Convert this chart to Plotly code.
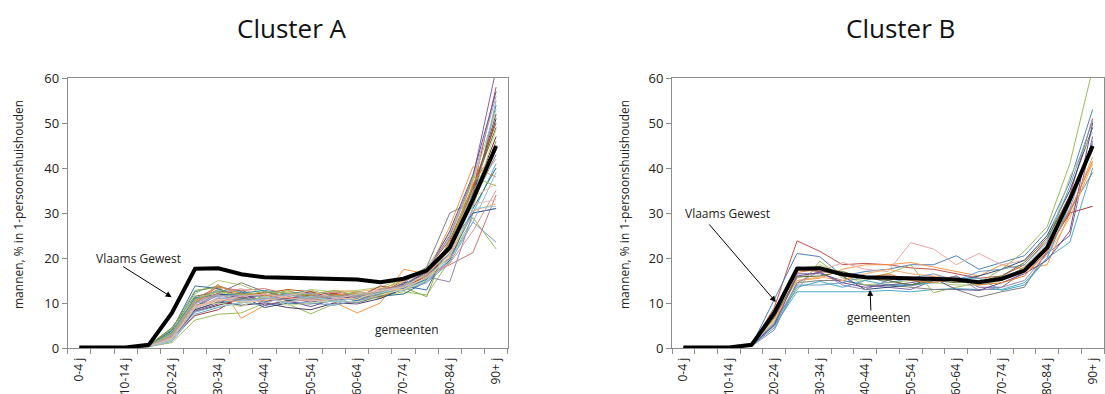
import plotly.graph_objects as go

categories = ["0-4 j", "5-9 j", "10-14 j", "15-19 j", "20-24 j", "25-29 j", "30-34 j",
              "35-39 j", "40-44 j", "45-49 j", "50-54 j", "55-59 j", "60-64 j",
              "65-69 j", "70-74 j", "75-79 j", "80-84 j", "85-89 j", "90+ j"]

vlaams_gewest = [0.1, 0.1, 0.1, 0.7, 7.8, 17.6, 17.7, 16.4, 15.7, 15.6, 15.4, 15.3, 15.2,
                 14.6, 15.4, 17.2, 22.3, 33.0, 44.9]

cluster_a = [
    [0, 0, 0.1, 0.4, 3.5, 12.5, 13.8, 12.2, 11.5, 12.0, 11.0, 11.5, 10.5, 11.5, 13.0, 15.5, 21.0, 33.0, 54.0],
    [0, 0, 0.1, 0.5, 2.8, 9.5, 10.5, 10.8, 11.8, 11.2, 10.5, 10.8, 11.2, 12.0, 13.5, 16.0, 23.5, 35.0, 58.0],
    [0, 0, 0.1, 0.3, 1.2, 6.2, 7.5, 7.8, 10.0, 9.8, 7.6, 9.8, 10.0, 11.5, 12.5, 11.8, 19.5, 29.0, 22.0],
    [0, 0, 0.1, 0.4, 2.5, 9.0, 11.8, 12.0, 10.5, 11.0, 10.2, 11.0, 11.2, 12.5, 14.0, 17.0, 25.0, 38.0, 62.0],
    [0, 0, 0.1, 0.4, 2.0, 8.5, 10.2, 10.5, 11.2, 10.8, 11.5, 10.5, 11.8, 11.0, 13.2, 15.0, 20.0, 30.0, 41.0],
    [0, 0, 0.1, 0.5, 3.0, 10.0, 14.2, 6.6, 9.5, 10.5, 11.0, 10.2, 7.8, 10.0, 17.5, 16.5, 27.0, 40.3, 38.0],
    [0, 0, 0.1, 0.5, 3.8, 11.0, 12.0, 11.5, 9.0, 10.0, 9.8, 10.5, 10.0, 11.8, 14.5, 15.5, 22.5, 34.0, 51.0],
    [0, 0, 0.1, 0.3, 2.2, 8.0, 9.5, 10.8, 12.5, 11.5, 12.5, 11.5, 11.0, 13.0, 13.8, 15.8, 21.0, 33.5, 47.0],
    [0, 0, 0.1, 0.6, 4.5, 11.5, 12.5, 12.8, 11.0, 12.2, 11.8, 12.0, 11.5, 12.5, 14.2, 16.5, 23.0, 35.5, 49.0],
    [0, 0, 0.1, 0.4, 2.6, 8.5, 10.2, 9.5, 10.0, 9.0, 8.5, 10.0, 9.8, 11.0, 13.2, 15.2, 22.0, 33.0, 45.0],
    [0, 0, 0.1, 0.4, 2.4, 9.2, 12.2, 11.0, 12.0, 10.5, 11.2, 11.8, 12.0, 11.5, 12.0, 14.8, 19.5, 31.0, 40.0],
    [0, 0, 0.1, 0.5, 3.2, 10.5, 13.0, 11.8, 12.2, 13.0, 12.5, 12.0, 11.0, 12.0, 15.0, 17.5, 24.0, 36.0, 50.0],
    [0, 0, 0.1, 0.3, 1.5, 7.5, 9.0, 10.2, 9.5, 10.2, 10.0, 9.5, 10.5, 12.2, 12.8, 14.5, 19.0, 28.0, 23.5],
    [0, 0, 0.1, 0.4, 2.9, 11.0, 13.5, 12.8, 13.2, 12.0, 11.5, 12.5, 11.8, 12.8, 13.5, 16.2, 18.5, 21.2, 34.0],
    [0, 0, 0.1, 0.5, 3.6, 12.0, 15.0, 14.0, 12.0, 11.5, 13.0, 12.5, 12.8, 13.5, 15.5, 17.8, 25.5, 37.0, 53.0],
    [0, 0, 0.1, 0.4, 2.1, 8.8, 11.0, 11.5, 11.8, 10.8, 11.5, 10.8, 11.5, 12.8, 13.0, 15.8, 14.7, 30.0, 31.0],
    [0, 0, 0.1, 0.5, 3.3, 10.8, 12.8, 12.5, 11.0, 11.8, 10.8, 11.2, 12.2, 12.0, 14.0, 16.0, 21.5, 32.0, 55.0],
    [0, 0, 0.1, 0.3, 1.8, 9.0, 10.5, 11.2, 10.8, 12.5, 12.0, 12.8, 12.5, 13.2, 14.8, 17.2, 20.5, 30.5, 32.0],
    [0, 0, 0.1, 0.4, 2.7, 10.2, 12.2, 14.5, 12.5, 11.2, 10.5, 11.0, 10.8, 12.0, 14.5, 18.0, 30.0, 32.5, 43.0],
    [0, 0, 0.1, 0.5, 4.0, 13.8, 13.2, 11.2, 10.2, 11.5, 12.2, 10.8, 11.0, 12.8, 13.8, 12.9, 23.0, 30.0, 31.0],
    [0, 0, 0.1, 0.4, 2.3, 7.2, 8.5, 11.5, 10.5, 11.0, 11.8, 12.2, 11.2, 13.8, 12.8, 16.5, 20.0, 34.5, 52.0],
    [0, 0, 0.1, 0.6, 4.2, 12.8, 13.5, 10.0, 11.5, 12.8, 11.2, 11.5, 12.5, 12.0, 13.5, 11.4, 24.5, 31.5, 46.0],
    [0, 0, 0.1, 0.3, 2.0, 8.2, 9.8, 12.5, 9.5, 10.5, 9.2, 10.8, 11.5, 12.2, 14.2, 16.8, 26.0, 38.5, 57.0],
    [0, 0, 0.1, 0.5, 3.4, 11.2, 11.5, 12.2, 12.8, 12.0, 12.8, 11.5, 10.5, 13.0, 13.2, 15.2, 22.8, 34.0, 44.0],
    [0, 0, 0.1, 0.4, 2.6, 9.8, 13.8, 12.0, 11.8, 11.2, 10.5, 11.8, 12.2, 11.2, 13.8, 16.0, 21.8, 36.5, 44.5],
    [0, 0, 0.1, 0.4, 1.9, 8.8, 11.2, 10.5, 10.8, 12.0, 11.0, 9.5, 11.8, 12.5, 12.8, 14.8, 19.8, 28.0, 39.0],
    [0, 0, 0.1, 0.5, 3.0, 10.5, 12.0, 13.2, 11.2, 10.2, 10.8, 12.5, 10.8, 13.2, 13.5, 15.5, 18.8, 26.0, 35.0],
    [0, 0, 0.1, 0.3, 2.4, 9.5, 10.0, 9.2, 11.5, 9.5, 10.0, 10.5, 10.2, 11.8, 13.0, 15.0, 21.0, 32.5, 48.5],
    [0, 0, 0.1, 0.4, 2.8, 9.8, 11.5, 11.8, 9.8, 11.8, 12.2, 11.0, 9.8, 12.5, 14.0, 17.5, 24.5, 37.5, 56.0],
    [0, 0, 0.1, 0.3, 1.6, 8.0, 9.2, 10.0, 11.2, 10.0, 11.5, 10.2, 11.2, 12.2, 13.5, 15.5, 20.8, 31.0, 31.5],
    [0, 0, 0.1, 0.5, 3.2, 10.8, 12.5, 11.8, 12.5, 12.2, 11.8, 12.8, 11.8, 12.8, 15.2, 17.0, 22.0, 38.0, 36.0],
    [0, 0, 0.1, 0.4, 2.2, 9.2, 10.8, 10.2, 10.5, 11.5, 12.8, 11.2, 10.8, 12.8, 13.0, 15.8, 20.2, 33.5, 36.5],
    [0, 0, 0.1, 0.4, 2.5, 10.0, 11.8, 10.8, 11.0, 10.8, 11.2, 11.5, 11.5, 12.5, 13.8, 16.2, 22.2, 35.0, 42.0],
    [0, 0, 0.1, 0.4, 2.0, 9.0, 10.5, 11.5, 12.0, 11.2, 10.5, 10.8, 12.0, 12.8, 13.5, 16.5, 21.5, 32.0, 33.0],
]

cluster_b = [
    [0, 0, 0.1, 0.6, 9.0, 23.8, 21.5, 18.5, 18.8, 18.5, 17.8, 17.5, 16.5, 15.5, 16.0, 18.5, 24.0, 34.0, 51.0],
    [0, 0, 0.1, 0.6, 10.8, 21.0, 20.3, 16.0, 17.0, 17.5, 18.5, 18.5, 20.5, 17.5, 19.0, 20.5, 26.0, 37.0, 53.0],
    [0, 0, 0.2, 0.7, 6.5, 13.0, 19.3, 15.5, 15.0, 16.5, 18.5, 12.3, 13.5, 14.5, 17.5, 21.5, 27.0, 41.0, 62.0],
    [0, 0, 0.1, 0.5, 5.5, 16.5, 16.5, 15.0, 14.0, 13.5, 13.0, 15.0, 16.0, 13.5, 13.5, 17.0, 21.0, 25.0, 47.0],
    [0, 0, 0.1, 0.5, 5.0, 12.5, 12.5, 12.5, 12.5, 12.8, 12.5, 13.0, 13.2, 13.0, 13.0, 14.5, 20.0, 23.5, 40.0],
    [0, 0, 0.1, 0.6, 7.0, 15.0, 15.5, 17.5, 18.5, 18.5, 19.0, 18.0, 17.0, 16.0, 18.5, 17.5, 18.5, 30.0, 42.5],
    [0, 0, 0.1, 0.5, 6.0, 15.5, 17.0, 19.0, 17.5, 17.0, 23.4, 22.0, 18.5, 21.0, 18.5, 19.5, 24.0, 33.0, 45.0],
    [0, 0, 0.1, 0.5, 5.0, 14.5, 15.0, 15.0, 14.0, 14.0, 13.5, 13.0, 13.0, 11.3, 12.5, 13.5, 21.5, 30.5, 39.0],
    [0, 0, 0.1, 0.5, 7.5, 17.5, 17.0, 16.5, 15.5, 16.0, 15.5, 15.8, 14.8, 14.5, 15.0, 18.0, 22.0, 30.0, 31.5],
    [0, 0, 0.1, 0.6, 8.5, 18.0, 17.5, 16.0, 13.0, 13.5, 14.0, 15.5, 15.0, 16.0, 17.5, 19.5, 25.0, 35.0, 49.0],
    [0, 0, 0.1, 0.5, 6.0, 14.0, 18.5, 16.5, 14.0, 14.5, 15.0, 14.5, 14.0, 14.0, 15.0, 18.0, 23.0, 38.0, 48.0],
    [0, 0, 0.1, 0.5, 6.5, 15.0, 15.8, 15.0, 16.5, 17.5, 16.5, 16.0, 15.5, 14.8, 15.2, 16.8, 20.5, 29.0, 41.0],
    [0, 0, 0.1, 0.4, 4.0, 14.5, 17.0, 14.0, 13.0, 15.0, 13.8, 14.8, 16.0, 12.8, 13.5, 15.0, 21.0, 31.0, 46.0],
    [0, 0, 0.1, 0.5, 5.5, 14.0, 14.0, 14.5, 16.0, 14.5, 15.5, 16.5, 15.0, 17.0, 17.5, 18.5, 23.5, 36.0, 50.5],
    [0, 0, 0.1, 0.5, 4.5, 13.5, 14.8, 13.5, 15.0, 14.0, 14.0, 14.5, 15.5, 15.5, 12.8, 14.0, 20.0, 32.0, 45.5],
    [0, 0, 0.1, 0.5, 5.2, 16.0, 16.8, 14.5, 13.5, 14.0, 14.5, 15.5, 13.0, 12.8, 14.5, 16.5, 19.5, 26.0, 50.0],
    [0, 0, 0.1, 0.5, 6.8, 15.8, 16.0, 17.0, 15.5, 15.0, 14.0, 15.0, 14.5, 14.8, 16.0, 19.0, 24.5, 33.5, 44.0],
    [0, 0, 0.1, 0.6, 7.2, 16.8, 17.5, 16.0, 15.5, 16.5, 15.0, 14.5, 15.5, 14.0, 14.5, 16.0, 21.5, 30.5, 41.5],
]

palette_a = ["#4F81BD", "#C0504D", "#9BBB59", "#8064A2", "#4BACC6", "#F79646",
             "#2C4D75", "#772C2A", "#5F7530", "#4D3B62", "#276A7C", "#B65708",
             "#729ACA", "#CD7371", "#AFC97A", "#9983B5", "#6FBDD1", "#F9AB6B",
             "#7F7F7F", "#3A6BA8", "#A33C39", "#86A84A", "#6A5090", "#3593AE",
             "#E67E2A", "#95B3D7", "#D99694", "#C3D69B", "#B3A2C7", "#93CDDD",
             "#9BBB59", "#FAC090", "#A5A5A5", "#E6B9B8"]
palette_b = ["#C0504D", "#4F81BD", "#9BBB59", "#8064A2", "#4BACC6", "#F79646",
             "#E6A8A6", "#7F7F7F", "#A33C39", "#2C4D75", "#AFC97A", "#F9AB6B",
             "#9983B5", "#729ACA", "#3FA9C8", "#6A5090", "#5F7530", "#E67E2A"]

x_idx = list(range(len(categories)))

fig = go.Figure()
for i, vals in enumerate(cluster_a):
    fig.add_trace(go.Scatter(x=x_idx, y=vals, mode="lines", xaxis="x", yaxis="y",
                             line=dict(color=palette_a[i % len(palette_a)], width=1),
                             showlegend=False, hoverinfo="skip"))
fig.add_trace(go.Scatter(x=x_idx, y=vlaams_gewest, mode="lines", xaxis="x", yaxis="y",
                         line=dict(color="black", width=4), showlegend=False))
for i, vals in enumerate(cluster_b):
    fig.add_trace(go.Scatter(x=x_idx, y=vals, mode="lines", xaxis="x2", yaxis="y2",
                             line=dict(color=palette_b[i % len(palette_b)], width=1),
                             showlegend=False, hoverinfo="skip"))
fig.add_trace(go.Scatter(x=x_idx, y=vlaams_gewest, mode="lines", xaxis="x2", yaxis="y2",
                         line=dict(color="black", width=4), showlegend=False))

W, H = 1105, 394
axis_color = "#8C8C8C"
font_family = "Open Sans"

def xaxis_cfg(domain):
    return dict(domain=domain, range=[-0.5, len(categories) - 0.5], tickmode="array",
                tickvals=x_idx[::2], ticktext=categories[::2], tickangle=-90,
                ticks="", showgrid=False, zeroline=False, showline=True,
                linecolor=axis_color, linewidth=1, mirror=True, ticklabelstandoff=4,
                tickfont=dict(family=font_family, size=12, color="#222"),
                minor=dict(tickmode="array",
                           tickvals=[v - 0.5 for v in range(len(categories) + 1)],
                           ticks="outside", ticklen=5, tickcolor=axis_color, showgrid=False),
                automargin=False, fixedrange=True)

def yaxis_cfg(anchor):
    return dict(domain=[(H - 348) / H, (H - 78) / H], range=[0, 60], tickvals=[0, 10, 20, 30, 40, 50, 60],
                ticks="outside", ticklen=5, tickcolor=axis_color, showgrid=False, zeroline=False,
                showline=True, linecolor=axis_color, linewidth=1, mirror=True, anchor=anchor,
                tickfont=dict(family=font_family, size=13, color="#222"), automargin=False)

fig.update_layout(
    width=W, height=H, margin=dict(l=0, r=0, t=0, b=0),
    paper_bgcolor="white", plot_bgcolor="white",
    xaxis=dict(xaxis_cfg([67.7 / W, 507.7 / W]), anchor="y"),
    yaxis=yaxis_cfg("x"),
    xaxis2=dict(xaxis_cfg([672 / W, 1104 / W]), anchor="y2"),
    yaxis2=yaxis_cfg("x2"),
    showlegend=False,
    font=dict(family=font_family, color="#222"),
)

ann = []
ann.append(dict(text="Cluster A", x=292 / W, y=(H - 28) / H, xref="paper", yref="paper",
                xanchor="center", yanchor="middle",
                showarrow=False, font=dict(size=26, family=font_family, color="#111")))
ann.append(dict(text="Cluster B", x=900 / W, y=(H - 28) / H, xref="paper", yref="paper",
                xanchor="center", yanchor="middle",
                showarrow=False, font=dict(size=26, family=font_family, color="#111")))
ytitle = "mannen, % in 1-persoonshuishouden"
ann.append(dict(text=ytitle, x=18 / W, y=(H - 205) / H, xref="paper", yref="paper",
                xanchor="center", yanchor="middle",
                textangle=-90, showarrow=False, font=dict(size=12, family=font_family, color="#222")))
ann.append(dict(text=ytitle, x=624 / W, y=(H - 205) / H, xref="paper", yref="paper",
                xanchor="center", yanchor="middle",
                textangle=-90, showarrow=False, font=dict(size=12, family=font_family, color="#222")))
# Cluster A labels
ann.append(dict(text="Vlaams Gewest", x=2.56, y=19.8, xref="x", yref="y", showarrow=False,
                font=dict(size=12, family=font_family, color="#222")))
ann.append(dict(text="", x=3.99, y=11.3, ax=1.83, ay=18.3, xref="x", yref="y", axref="x", ayref="y",
                showarrow=True, arrowhead=2, arrowsize=1.2, arrowwidth=1, arrowcolor="black"))
ann.append(dict(text="gemeenten", x=14.15, y=4.2, xref="x", yref="y", showarrow=False,
                font=dict(size=12, family=font_family, color="#222")))
# Cluster B labels
ann.append(dict(text="Vlaams Gewest", x=1.94, y=29.8, xref="x2", yref="y2", showarrow=False,
                font=dict(size=12, family=font_family, color="#222")))
ann.append(dict(text="", x=4.07, y=10.2, ax=1.08, ay=27.8, xref="x2", yref="y2", axref="x2", ayref="y2",
                showarrow=True, arrowhead=2, arrowsize=1.2, arrowwidth=1, arrowcolor="black"))
ann.append(dict(text="gemeenten", x=8.60, y=6.7, xref="x2", yref="y2", showarrow=False,
                font=dict(size=12, family=font_family, color="#222")))
ann.append(dict(text="", x=8.21, y=12.9, ax=8.25, ay=8.0, xref="x2", yref="y2", axref="x2", ayref="y2",
                showarrow=True, arrowhead=2, arrowsize=1.2, arrowwidth=1, arrowcolor="black"))
fig.update_layout(annotations=ann)

fig.write_html("out.html")
